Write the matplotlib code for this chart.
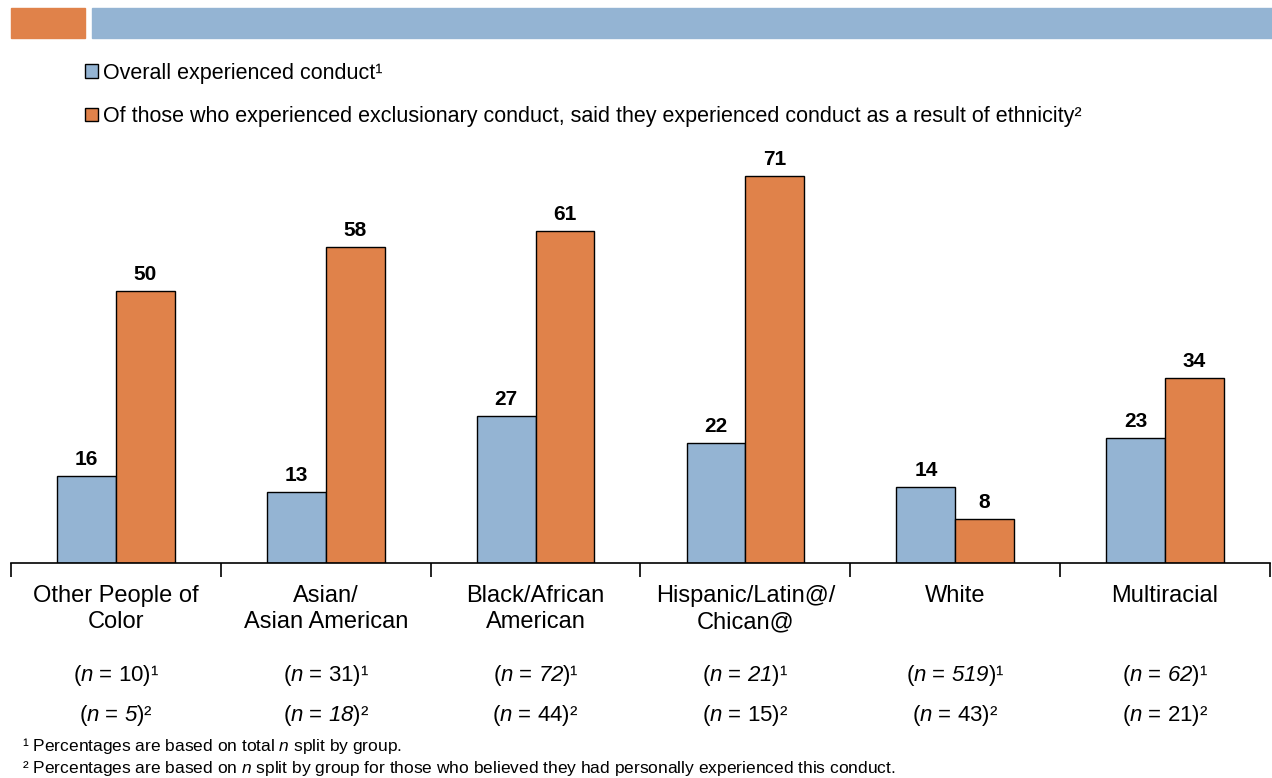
import matplotlib
matplotlib.use('Agg')
import matplotlib.pyplot as plt
from matplotlib.patches import Rectangle
import numpy as np

plt.rcParams['font.family'] = ['Liberation Sans', 'DejaVu Sans']
plt.rcParams['mathtext.fontset'] = 'custom'
plt.rcParams['mathtext.rm'] = 'Liberation Sans'
plt.rcParams['mathtext.it'] = 'Liberation Sans:italic'
# digits are never italic under \mathit, so route them through \mathsf
plt.rcParams['mathtext.sf'] = 'Liberation Sans:italic'

# data
groups = ['Other People of\nColor', 'Asian/\nAsian American', 'Black/African\nAmerican',
          'Hispanic/Latin@/\nChican@', 'White', 'Multiracial']
overall = [16, 13, 27, 22, 14, 23]
ethnicity = [50, 58, 61, 71, 8, 34]
n_overall = ['10', '31', '72', '21', '519', '62']
n_overall_italic = [False, False, True, True, True, True]
n_eth = ['5', '18', '44', '15', '43', '21']
n_eth_italic = [True, True, False, False, False, False]

label_1 = 'Overall experienced conduct¹'
label_2 = ('Of those who experienced exclusionary conduct, said they experienced '
           'conduct as a result of ethnicity²')
note_1 = '¹ Percentages are based on total $\\mathit{n}$ split by group.'
note_2 = ('² Percentages are based on $\\mathit{n}$ split by group for those who believed '
          'they had personally experienced this conduct.')

blue = '#94B4D3'
orange = '#E0824A'

fig = plt.figure(figsize=(12.72, 7.78), dpi=100)
ax = fig.add_axes([11/1272, 1 - 563/778, 1259/1272, (563 - 149)/778])

x = np.arange(len(groups))
w = 0.28
b1 = ax.bar(x - w/2, overall, w, color=blue, edgecolor='black', linewidth=1, label=label_1)
b2 = ax.bar(x + w/2, ethnicity, w, color=orange, edgecolor='black', linewidth=1, label=label_2)
ax.bar_label(b1, padding=5, fontsize=15, fontweight='bold')
ax.bar_label(b2, padding=5, fontsize=15, fontweight='bold')

ax.set_xlim(-0.5, 5.5)
ax.set_ylim(0, 76)
for s in ['top', 'right', 'left']:
    ax.spines[s].set_visible(False)
ax.spines['bottom'].set_linewidth(1.2)
ax.set_yticks([])
ax.set_xticks(x)
ax.set_xticklabels(groups, fontsize=17, linespacing=1.25)
ax.tick_params(axis='x', which='major', length=0, pad=16)
ax.set_xticks(np.arange(-0.5, 6, 1), minor=True)
ax.tick_params(axis='x', which='minor', length=10, width=1.2, direction='out')

# n labels
def n_text(num, ital, sup):
    v = '$\\mathsf{%s}$' % num if ital else num
    return '($\\mathit{n}$ = %s)%s' % (v, sup)

for i in range(len(groups)):
    xf = (11 + (i + 0.5) * 1259 / 6) / 1272
    fig.text(xf, 1 - 676/778, n_text(n_overall[i], n_overall_italic[i], '¹'),
             ha='center', va='center', fontsize=16)
    fig.text(xf, 1 - 716/778, n_text(n_eth[i], n_eth_italic[i], '²'),
             ha='center', va='center', fontsize=16)

fig.text(22/1272, 1 - 746/778, note_1, ha='left', va='center', fontsize=12.5)
fig.text(22/1272, 1 - 768/778, note_2, ha='left', va='center', fontsize=12.5)

# legend
fig.legend(handles=[b1, b2], loc='upper left', bbox_to_anchor=(76/1272, 1 - 54/778),
           frameon=False, fontsize=15.5, handlelength=0.6, handleheight=0.6,
           handletextpad=0.25, labelspacing=1.05, borderaxespad=0)

# header bars
fig.patches.append(Rectangle((11/1272, 1 - 38/778), 74/1272, 30/778,
                             transform=fig.transFigure, color=orange))
fig.patches.append(Rectangle((92/1272, 1 - 38/778), 1180/1272, 30/778,
                             transform=fig.transFigure, color=blue))

fig.savefig('out.png', dpi=100)
